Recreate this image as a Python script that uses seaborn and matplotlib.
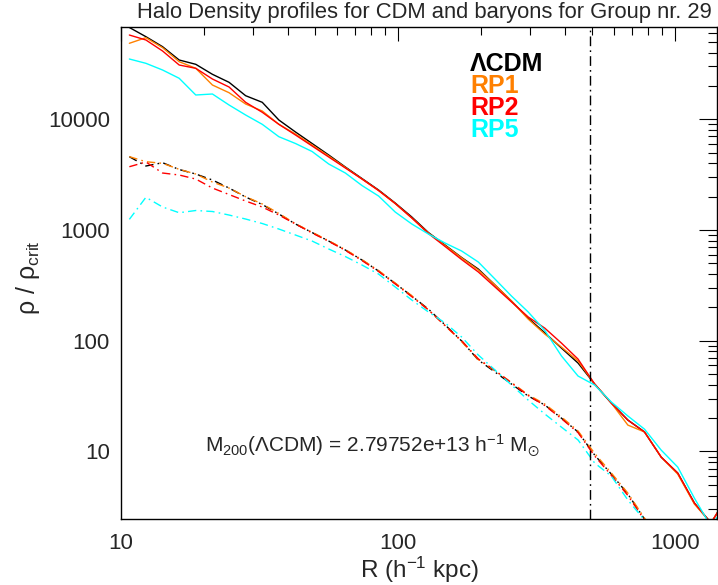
import matplotlib
matplotlib.use("Agg")
import matplotlib.pyplot as plt
import pandas as pd
import seaborn as sns
from matplotlib.ticker import LogLocator, FuncFormatter, NullFormatter

# ---------------- data ----------------
radius = [10.72, 12.30, 14.13, 16.22, 18.62, 21.38, 24.55, 28.18, 32.36, 37.15,
          42.66, 48.98, 56.23, 64.57, 74.13, 85.11, 97.72, 112.2, 128.8, 147.9,
          169.8, 195.0, 223.9, 257.0, 295.1, 338.8, 389.0, 446.7, 512.9, 588.8,
          676.1, 776.2, 891.3, 1023.0, 1175.0, 1349.0, 1549.0]

# dark matter (solid)
cdm_lcdm = [67500, 55760, 45280, 34330, 31390, 25500, 21590, 16340, 14240, 9856,
            7680, 6045, 4760, 3708, 2919, 2298, 1754, 1311, 949, 732,
            564, 444, 319, 228, 160, 118, 85.9, 62.9, 40.6, 27.4,
            19.2, 15.0, 8.90, 6.38, 3.42, 2.26, 3.95]
cdm_rp1 = [48600, 54600, 44350, 33140, 28880, 20410, 17390, 13750, 11880, 9010,
           7365, 5860, 4662, 3669, 2888, 2274, 1735, 1284, 939, 724,
           559, 435, 319, 228, 157, 115, 87.7, 65.6, 40.6, 27.4,
           17.3, 15.0, 8.90, 6.25, 3.35, 2.26, 3.95]
cdm_rp2 = [57720, 52050, 41400, 30940, 28880, 23120, 19580, 14240, 11570, 9010,
           7215, 5740, 4565, 3632, 2888, 2274, 1735, 1284, 930, 710,
           541, 418, 306, 224, 164, 130, 95.3, 68.3, 40.6, 27.4,
           19.2, 15.0, 8.90, 6.38, 3.42, 2.26, 3.95]
cdm_rp5 = [35050, 32050, 27880, 23470, 16580, 16930, 13470, 10940, 9010, 6963,
           6045, 5118, 3947, 3273, 2523, 2028, 1454, 1133, 920, 763,
           646, 514, 361, 253, 182, 124, 73.0, 48.0, 39.8, 28.0,
           20.9, 15.9, 10.3, 7.23, 3.79, 2.10, 3.50]

# baryons (dash-dot)
bar_lcdm = [4594, 3786, 4055, 3520, 3205, 2830, 2395, 1987, 1700, 1395,
            1133, 949, 795, 660, 536, 426, 329, 253, 193, 139,
            99.4, 66.9, 52.2, 40.6, 31.7, 26.3, 20.0, 15.0, 9.28, 6.25,
            4.12, 2.45, 1.43, 0.90]
bar_rp1 = [4600, 4140, 4004, 3534, 3205, 2714, 2395, 2000, 1720, 1410,
           1140, 955, 800, 665, 540, 430, 332, 255, 190, 137,
           98.0, 67.5, 53.5, 42.0, 32.5, 26.8, 20.5, 15.3, 9.60, 6.40,
           4.20, 2.50, 1.45, 0.90]
bar_rp2 = [3731, 4115, 3273, 3140, 2888, 2395, 2093, 1828, 1614, 1366,
           1133, 940, 790, 655, 530, 422, 326, 250, 190, 137,
           100, 68.5, 54.0, 41.5, 32.0, 26.0, 19.8, 14.8, 9.10, 6.10,
           4.00, 2.40, 1.40, 0.88]
bar_rp5 = [1249, 1975, 1614, 1433, 1501, 1470, 1366, 1257, 1145, 1021,
           901, 795, 674, 576, 483, 400, 306, 233, 182, 145,
           108, 74.3, 54.4, 39.8, 29.1, 21.8, 16.6, 12.7, 7.86, 6.00,
           3.64, 2.40, 1.43, 0.90]

models = ["ΛCDM", "RP1", "RP2", "RP5"]
colors = ["#000000", "#ff8000", "#ff0000", "#00ffff"]
r200 = 493.5
m200_text = "M$_{200}$(ΛCDM) = 2.79752e+13 h$^{-1}$ M$_{\\odot}$"
title = "Halo Density profiles for CDM and baryons for Group nr. 29"

# ---------------- style ----------------
sns.set_theme(style="white")
plt.rcParams["font.family"] = ["Liberation Sans", "DejaVu Sans"]
plt.rcParams["mathtext.fontset"] = "custom"
plt.rcParams["mathtext.rm"] = "Liberation Sans"
plt.rcParams["mathtext.it"] = "Liberation Sans:italic"
plt.rcParams["mathtext.bf"] = "Liberation Sans:bold"
plt.rcParams["mathtext.default"] = "regular"
plt.rcParams["lines.scale_dashes"] = False

series = [
    ("ΛCDM", "CDM", cdm_lcdm), ("ΛCDM", "baryons", bar_lcdm),
    ("RP1", "CDM", cdm_rp1), ("RP1", "baryons", bar_rp1),
    ("RP2", "CDM", cdm_rp2), ("RP2", "baryons", bar_rp2),
    ("RP5", "CDM", cdm_rp5), ("RP5", "baryons", bar_rp5),
]
rows = []
for model, comp, vals in series:
    for r, v in zip(radius, vals):
        rows.append((r, v, model, comp))
df = pd.DataFrame(rows, columns=["R", "rho", "model", "component"])

W, H = 718, 585
fig = plt.figure(figsize=(W / 100, H / 100), dpi=100)
ax = fig.add_axes([121 / W, 1 - 519 / H, 596 / W, 492 / H])
ax.set_xscale("log")
ax.set_yscale("log")

dashdot = (6, 3, 1.2, 3)
sns.lineplot(data=df, x="R", y="rho", hue="model", style="component",
             hue_order=models, style_order=["CDM", "baryons"],
             palette=dict(zip(models, colors)),
             dashes={"CDM": "", "baryons": dashdot},
             estimator=None, sort=False, lw=1.0, legend=False, ax=ax)

ax.axvline(r200, color="black", lw=1.0, linestyle=(0, (7, 3, 1.2, 3)))

ax.set_xlim(10, 1418)
ax.set_ylim(2.455, 68200)
ax.set_xlabel("")
ax.set_ylabel("")

fmt = FuncFormatter(lambda v, p: f"{v:g}")
for axis in (ax.xaxis, ax.yaxis):
    axis.set_major_locator(LogLocator(base=10, numticks=10))
    axis.set_minor_locator(LogLocator(base=10, subs=range(2, 10), numticks=50))
    axis.set_major_formatter(fmt)
    axis.set_minor_formatter(NullFormatter())

ax.tick_params(which="both", direction="in", top=True, right=True, color="black")
ax.tick_params(axis="x", which="major", length=10.3, width=0.8, labelsize=16, pad=10)
ax.tick_params(axis="x", which="minor", length=5.5, width=0.8)
ax.tick_params(axis="y", which="major", length=12.7, width=0.8, labelsize=16, pad=8)
ax.tick_params(axis="y", which="minor", length=6.5, width=0.8)
for s in ax.spines.values():
    s.set_color("black")
    s.set_linewidth(1.0)

# texts
fig.text(424 / W, 1 - 18 / H, title, ha="center", va="baseline", fontsize=15.8)
fig.text(420 / W, 1 - 578 / H, "R (h$^{-1}$ kpc)", ha="center", va="baseline", fontsize=17.5)
fig.text(28 / W, 1 - 278 / H, "ρ / ρ$_{crit}$", ha="center", va="center",
         rotation=90, fontsize=18)
fig.text(205 / W, 1 - 452 / H, m200_text, ha="left", va="baseline", fontsize=15)

baselines = [70.7, 92.7, 115.0, 137.3]
for name, col, b in zip(models, colors, baselines):
    fig.text(470 / W, 1 - b / H, name, color=col, ha="left", va="baseline",
             fontsize=18, fontweight="bold")

fig.savefig("out.png", dpi=100)
